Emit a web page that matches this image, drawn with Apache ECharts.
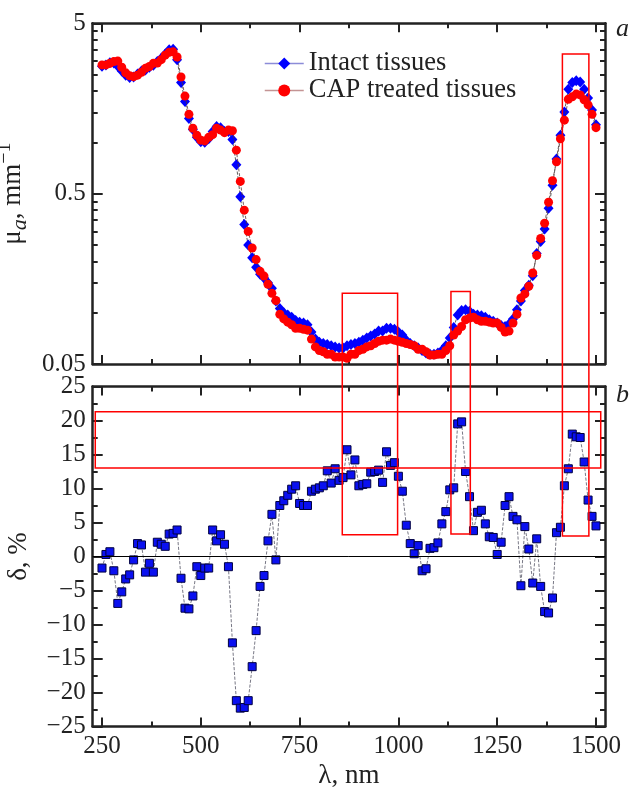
<!DOCTYPE html>
<html><head><meta charset="utf-8">
<script src="https://cdn.jsdelivr.net/npm/echarts@6/dist/echarts.min.js"></script>
<style>html,body{margin:0;padding:0;background:#fff}#c{width:635px;height:792px}</style>
</head><body><div id="c"></div>
<script>
// wavelength, nm
const wavelength = [
 250,260,270,280,290,300,310,320,330,340,
 350,360,370,380,390,400,410,420,430,440,
 450,460,470,480,490,500,510,520,530,540,
 550,560,570,580,590,600,610,620,630,640,
 650,660,670,680,690,700,710,720,730,740,
 750,760,770,780,790,800,810,820,830,840,
 850,860,870,880,890,900,910,920,930,940,
 950,960,970,980,990,1000,1010,1020,1030,1040,
 1050,1060,1070,1080,1090,1100,1110,1120,1130,1140,
 1150,1160,1170,1180,1190,1200,1210,1220,1230,1240,
 1250,1260,1270,1280,1290,1300,1310,1320,1330,1340,
 1350,1360,1370,1380,1390,1400,1410,1420,1430,1440,
 1450,1460,1470,1480,1490,1500];
// mu_a, intact tissues
const intact = [
 2.80,2.85,2.93,2.92,2.80,2.62,2.48,2.40,2.42,2.52,
 2.62,2.66,2.76,2.84,2.98,3.12,3.30,3.50,3.52,3.05,
 2.25,1.74,1.38,1.19,1.07,1.01,1.00,1.05,1.16,1.24,
 1.22,1.16,1.16,1.04,0.74,0.48,0.33,0.25,0.21,0.185,
 0.168,0.160,0.150,0.139,0.117,0.106,0.100,0.097,0.094,0.090,
 0.088,0.087,0.085,0.077,0.070,0.067,0.066,0.065,0.064,0.063,
 0.062,0.062,0.064,0.065,0.066,0.067,0.069,0.071,0.073,0.075,
 0.078,0.078,0.081,0.081,0.080,0.077,0.074,0.069,0.066,0.064,
 0.062,0.060,0.058,0.057,0.057,0.058,0.060,0.064,0.071,0.082,
 0.097,0.103,0.104,0.102,0.098,0.097,0.096,0.094,0.091,0.089,
 0.087,0.084,0.083,0.086,0.092,0.104,0.117,0.135,0.145,0.165,
 0.223,0.262,0.31,0.41,0.56,0.80,1.10,1.51,2.05,2.25,
 2.30,2.26,2.05,1.82,1.55,1.27];
// mu_a, CAP treated tissues
const treated = [
 2.85,2.85,2.91,2.98,3.00,2.76,2.56,2.46,2.43,2.48,
 2.58,2.72,2.79,2.91,2.92,3.06,3.25,3.38,3.40,3.17,
 2.42,1.87,1.46,1.21,1.10,1.03,1.02,1.07,1.11,1.21,
 1.18,1.14,1.18,1.17,0.90,0.59,0.40,0.30,0.24,0.205,
 0.175,0.164,0.147,0.130,0.118,0.098,0.092,0.088,0.085,0.081,
 0.081,0.080,0.079,0.070,0.063,0.060,0.059,0.057,0.057,0.055,
 0.055,0.055,0.054,0.057,0.057,0.060,0.061,0.063,0.064,0.066,
 0.068,0.069,0.069,0.070,0.069,0.068,0.067,0.066,0.065,0.064,
 0.061,0.061,0.059,0.0565,0.0565,0.057,0.057,0.060,0.064,0.074,
 0.078,0.083,0.091,0.093,0.094,0.091,0.089,0.089,0.088,0.087,
 0.087,0.082,0.077,0.078,0.087,0.098,0.122,0.129,0.143,0.171,
 0.217,0.273,0.335,0.445,0.595,0.77,1.05,1.35,1.79,1.85,
 1.92,1.90,1.78,1.66,1.46,1.22];
// delta, %
const deltaPct = [
 -1.7,0.3,0.7,-2.1,-6.9,-5.2,-3.3,-2.7,-0.5,1.9,
 1.7,-2.3,-1.0,-2.3,2.1,1.8,1.5,3.3,3.4,3.9,
 -3.2,-7.6,-7.7,-5.8,-1.5,-2.8,-1.7,-1.7,3.9,2.3,
 3.2,1.8,-1.5,-12.7,-21.2,-22.3,-22.2,-21.2,-16.2,-10.9,
 -4.4,-2.8,2.3,6.2,-0.5,7.5,8.2,9.0,9.9,10.4,
 7.8,7.5,7.5,9.6,9.9,10.1,10.4,12.6,10.8,12.9,
 11.2,11.6,15.7,12.0,14.2,10.4,10.6,10.7,12.4,12.5,
 12.7,10.9,15.4,13.4,13.8,11.8,9.6,4.6,1.9,0.4,
 1.6,-2.1,-1.8,1.2,1.3,2.0,4.8,6.6,9.8,10.1,
 19.5,19.8,12.5,8.8,3.8,6.5,6.8,4.8,2.9,2.8,
 0.3,2.1,7.5,8.8,5.9,5.4,-4.3,4.4,1.1,-3.9,
 2.6,-4.4,-8.1,-8.3,-6.1,3.5,4.3,10.4,12.9,18.0,
 17.6,17.5,13.9,8.3,5.9,4.5];

const xMajorTicks = [250,500,750,1000,1250,1500];
const xMinorTicks = [375,625,875,1125,1375];
const muMajorTicks = [0.05,0.5,5];
const muMinorTicks = [0.1,0.15,0.2,0.25,0.3,0.35,0.4,0.45,1,1.5,2,2.5,3,3.5,4,4.5];
const deltaMajorTicks = [-25,-20,-15,-10,-5,0,5,10,15,20,25];
const deltaMinorTicks = [-22.5,-17.5,-12.5,-7.5,-2.5,2.5,7.5,12.5,17.5,22.5];
// highlighted regions: [x0, x1, upper (panel a, mu_a), lower (panel b, delta)]
const spanBoxes = [[858,998,0.130,3.2],[1133,1182,0.133,3.3],[1415,1482,3.30,3.0]];
// horizontal band in panel b: [x0, x1, delta top, delta bottom]
const bandBox = [233,1512,21.3,13.0];

const FONT = "'Liberation Serif', 'Times New Roman', Times, serif";
const TXT = '#222';
const XMIN = 226.5, XMAX = 1522.8;
const fmt = v => (v < 0 ? '\u2212' + Math.abs(v) : String(v));

function xAx(grid, pos, ticks, len, main, labels) {
  return {
    type:'value', gridIndex:grid, position:pos, min:XMIN, max:XMAX,
    axisLine:{show:main, onZero:false, lineStyle:{color:'#222', width:2.5}},
    axisTick:{show:true, inside:true, length:len, customValues:ticks, lineStyle:{color:'#222', width:2}},
    axisLabel:{show:!!labels, customValues:labels||undefined, fontFamily:FONT, fontSize:25, color:TXT, margin:7, formatter:fmt},
    splitLine:{show:false}
  };
}
function yAx(grid, pos, type, mn, mx, ticks, len, main, labels) {
  const a = {
    type:type, gridIndex:grid, position:pos, min:mn, max:mx,
    axisLine:{show:main, onZero:false, lineStyle:{color:'#222', width:2.5}},
    axisTick:{show:true, inside:true, length:len, customValues:ticks, lineStyle:{color:'#222', width:2}},
    axisLabel:{show:!!labels, customValues:labels||undefined, fontFamily:FONT, fontSize:25, color:TXT, margin:7, formatter:fmt},
    splitLine:{show:false}
  };
  if (type === 'log') a.logBase = 10;
  return a;
}

const xAxes = [
  xAx(0,'bottom',xMajorTicks,9,true,null),
  xAx(0,'bottom',xMinorTicks,5,false,null),
  xAx(0,'top',xMajorTicks,9,true,null),
  xAx(0,'top',xMinorTicks,5,false,null),
  xAx(1,'bottom',xMajorTicks,9,true,xMajorTicks),
  xAx(1,'bottom',xMinorTicks,5,false,null),
  xAx(1,'top',xMajorTicks,9,true,null),
  xAx(1,'top',xMinorTicks,5,false,null)
];
xAxes[4].name = '\u03bb, nm';
xAxes[4].nameLocation = 'middle';
xAxes[4].nameGap = 36;
xAxes[4].nameTextStyle = {fontFamily:FONT, fontSize:27, color:TXT};

const yAxes = [
  yAx(0,'left','log',0.05,5,muMajorTicks,10,true,muMajorTicks),
  yAx(0,'left','log',0.05,5,muMinorTicks,5,false,null),
  yAx(0,'right','log',0.05,5,muMajorTicks,10,true,null),
  yAx(0,'right','log',0.05,5,muMinorTicks,5,false,null),
  yAx(1,'left','value',-25,25,deltaMajorTicks,10,true,deltaMajorTicks),
  yAx(1,'left','value',-25,25,deltaMinorTicks,5,false,null),
  yAx(1,'right','value',-25,25,deltaMajorTicks,10,true,null),
  yAx(1,'right','value',-25,25,deltaMinorTicks,5,false,null)
];
yAxes[0].name = '{m|\u03bc}{s|a}{m|, mm}{p|\u22121}';
yAxes[0].nameLocation = 'middle';
yAxes[0].nameGap = 58;
yAxes[0].nameTextStyle = {fontFamily:FONT, color:TXT, rich:{
  m:{fontFamily:FONT, fontSize:27, color:TXT, lineHeight:36, verticalAlign:'middle'},
  s:{fontFamily:FONT, fontSize:22, color:TXT, fontStyle:'italic', lineHeight:36, verticalAlign:'bottom'},
  p:{fontFamily:FONT, fontSize:20, color:TXT, lineHeight:36, verticalAlign:'top'}
}};
yAxes[4].name = '\u03b4, %';
yAxes[4].nameLocation = 'middle';
yAxes[4].nameGap = 60;
yAxes[4].nameTextStyle = {fontFamily:FONT, fontSize:27, color:TXT};

const pairs = (xs, ys) => xs.map((x,i)=>[x, ys[i]]);

const chart = echarts.init(document.getElementById('c'), null, {renderer:'canvas'});
chart.setOption({
  animation:false,
  backgroundColor:'#fff',
  textStyle:{fontFamily:FONT},
  grid:[
    {left:92.7, top:23.3, width:512.3, height:340.7, containLabel:false, outerBoundsMode:'none'},
    {left:92.7, top:386.5, width:512.3, height:340, containLabel:false, outerBoundsMode:'none'}
  ],
  xAxis: xAxes,
  yAxis: yAxes,
  legend:{
    orient:'vertical', left:259, top:45, itemWidth:39, itemHeight:15, itemGap:0,
    textStyle:{fontFamily:FONT, fontSize:26.5, color:TXT, lineHeight:24},
    data:[
      {name:'Intact tissues', lineStyle:{color:'#8c8cd8', width:1.5, type:'solid'}},
      {name:'CAP treated tissues', lineStyle:{color:'#c49494', width:1.5, type:'solid'}}
    ]
  },
  series:[
    {name:'Intact tissues', type:'line', xAxisIndex:0, yAxisIndex:0, data:pairs(wavelength,intact),
     symbol:'diamond', symbolSize:[10,11], itemStyle:{color:'#0000ff'},
     lineStyle:{color:'#333', width:0.8, type:'dashed'}, z:3},
    {name:'CAP treated tissues', type:'line', xAxisIndex:0, yAxisIndex:0, data:pairs(wavelength,treated),
     symbol:'circle', symbolSize:9, itemStyle:{color:'#ff0000'},
     lineStyle:{color:'#553333', width:0.8, type:'dashed'}, z:4},
    {name:'delta', type:'line', xAxisIndex:4, yAxisIndex:4, data:pairs(wavelength,deltaPct),
     symbol:'rect', symbolSize:8, itemStyle:{color:'#0a10f0', borderColor:'#000040', borderWidth:1},
     lineStyle:{color:'#556', width:0.8, type:'dashed'}, z:3,
     markLine:{silent:true, symbol:'none', label:{show:false}, animation:false,
       lineStyle:{color:'#000', width:1, type:'solid'}, data:[{yAxis:0}]}}
  ]
});

const graphics = [];
spanBoxes.forEach(b => {
  const p1 = chart.convertToPixel({xAxisIndex:0, yAxisIndex:0}, [b[0], b[2]]);
  const p2 = chart.convertToPixel({xAxisIndex:4, yAxisIndex:4}, [b[1], b[3]]);
  graphics.push({type:'rect', z:100, shape:{x:p1[0], y:p1[1], width:p2[0]-p1[0], height:p2[1]-p1[1]},
    style:{fill:'none', stroke:'#ff0000', lineWidth:1.5}});
});
{
  const p1 = chart.convertToPixel({xAxisIndex:4, yAxisIndex:4}, [bandBox[0], bandBox[2]]);
  const p2 = chart.convertToPixel({xAxisIndex:4, yAxisIndex:4}, [bandBox[1], bandBox[3]]);
  graphics.push({type:'rect', z:100, shape:{x:p1[0], y:p1[1], width:p2[0]-p1[0], height:p2[1]-p1[1]},
    style:{fill:'none', stroke:'#ff0000', lineWidth:1.5}});
}
graphics.push({type:'text', left:616, top:16, style:{text:'a', font:"italic 26px 'Liberation Serif', serif", fill:TXT}});
graphics.push({type:'text', left:616, top:382, style:{text:'b', font:"italic 26px 'Liberation Serif', serif", fill:TXT}});
chart.setOption({graphic:graphics});
</script></body></html>
